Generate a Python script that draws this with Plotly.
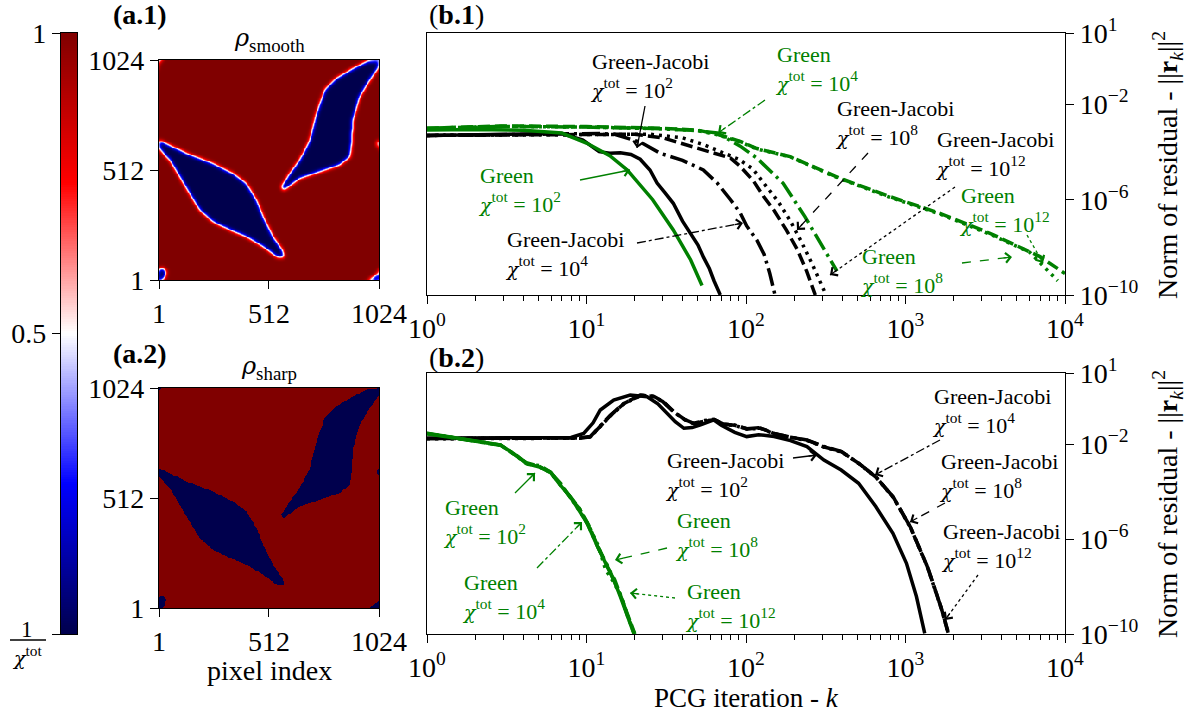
import numpy as np
import plotly.graph_objects as go

W, H = 1193, 713
FONT = "Liberation Serif"
GREEN = "#008000"
CHI = "<span style=\"font-family:'DejaVu Serif';font-style:italic;font-size:19px\">χ</span>"
RHO = "<span style=\"font-family:'DejaVu Serif';font-style:italic;font-size:24px\">ρ</span>"

# ---------------- data: convergence curves (k, log10 of residual norm) ----------------
# panel b.1 (smooth)
b1_g2_k = [1, 2, 4, 7, 10, 14, 18, 26, 35, 45, 53]
b1_g2_lr = [-3.07, -3.05, -3.08, -3.2, -3.62, -4.15, -4.75, -6.0, -7.27, -8.53, -9.6]
b1_g4_k = [1, 3, 10, 30, 50, 66, 92, 117, 150, 171, 234, 300, 351, 372]
b1_g4_lr = [-3.0, -2.92, -2.95, -3.02, -3.1, -3.2, -3.75, -4.25, -4.95, -5.31, -6.71, -7.9, -8.67, -9.0]
b1_g8_k = [1, 3, 10, 30, 50, 66, 92, 117, 189, 388, 800, 1645, 3388, 6970, 10000]
b1_g8_lr = [-3.0, -2.9, -2.93, -3.0, -3.08, -3.25, -3.55, -3.85, -4.19, -5.1, -5.87, -6.57, -7.41, -8.39, -9.1]
b1_g12_k = [1, 3, 10, 30, 50, 66, 92, 117, 189, 388, 800, 1645, 3388, 6000, 9000]
b1_g12_lr = [-3.02, -2.92, -2.95, -3.02, -3.1, -3.27, -3.57, -3.87, -4.2, -5.12, -5.9, -6.6, -7.45, -8.2, -9.4]
b1_gj2_k = [1, 3, 7, 9.5, 12, 14, 16.3, 19, 21.7, 25, 27.7, 31, 35, 40, 45, 50, 54, 59, 63, 69]
b1_gj2_lr = [-3.3, -3.25, -3.22, -3.5, -3.98, -4.05, -4.03, -4.1, -4.3, -4.75, -5.3, -5.7, -6.15, -6.9,
             -7.4, -7.9, -8.4, -8.9, -9.4, -10.0]
b1_gj4_k = [1, 5, 12, 15, 18, 22, 29, 40, 54, 66, 80, 92, 101, 117, 130, 141, 152]
b1_gj4_lr = [-3.3, -3.25, -3.22, -3.25, -3.4, -3.6, -4.05, -4.35, -4.75, -5.3, -6.0, -6.55, -7.1, -7.7,
             -8.3, -9.1, -10.0]
b1_gj8_k = [1, 10, 20, 30, 45, 60, 80, 92, 111, 130, 150, 180, 210, 240, 272]
b1_gj8_lr = [-3.3, -3.25, -3.25, -3.4, -3.75, -4.0, -4.25, -4.6, -5.2, -5.9, -6.45, -7.3, -8.1, -9.0, -10.0]
b1_gj12_k = [1, 10, 25, 40, 55, 70, 90, 110, 130, 160, 190, 220, 260, 290, 313]
b1_gj12_lr = [-3.3, -3.25, -3.25, -3.4, -3.7, -4.0, -4.3, -4.7, -5.3, -6.1, -6.9, -7.7, -8.7, -9.4, -9.9]

# panel b.2 (sharp)
b2_g2_k = [1, 1.6, 2.88, 3.5, 4.2, 5.0, 5.9, 6.8, 7.9, 9, 10.1, 11.7, 13.4, 15, 16.3, 18, 19.8]
b2_g2_lr = [-1.54, -1.75, -2.03, -2.4, -2.81, -2.95, -3.16, -3.7, -4.21, -4.8, -5.33, -6.3, -7.16, -7.8,
            -8.42, -9.2, -9.97]
b2_g4_k = [1, 1.6, 2.9, 3.6, 4.3, 5.1, 6.0, 6.9, 8.0, 9.1, 10.2, 11.8, 13.5, 15.2, 16.5, 18.2, 20.0]
b2_g4_lr = [-1.56, -1.76, -2.05, -2.45, -2.85, -2.9, -3.2, -3.75, -4.25, -4.75, -5.4, -6.35, -7.1, -7.9,
            -8.4, -9.3, -10.0]
b2_g8_k = [1, 1.6, 2.9, 3.5, 4.2, 5.0, 6.0, 6.9, 8.0, 9.0, 10.3, 11.6, 13.6, 15.0, 16.6, 18.2, 20.1]
b2_g8_lr = [-1.55, -1.75, -2.04, -2.42, -2.78, -2.92, -3.22, -3.66, -4.3, -4.7, -5.4, -6.2, -7.2, -7.7,
            -8.5, -9.25, -10.0]
b2_g12_k = [1, 1.6, 2.9, 3.5, 4.2, 5.0, 5.9, 6.9, 7.9, 9.1, 10.2, 11.8, 13.2, 14.6, 16.4, 18.1, 20.0]
b2_g12_lr = [-1.55, -1.76, -2.04, -2.42, -2.82, -2.94, -3.18, -3.72, -4.22, -4.85, -5.35, -6.25, -7.3,
             -7.75, -8.38, -9.22, -10.0]
b2_gj2_k = [1, 3, 6, 8, 9.6, 11, 12.2, 14.8, 18.8, 24, 28, 32, 36, 40.8, 46, 51.9, 57, 62.9, 70, 76, 85,
            101, 120, 150, 190, 241, 308, 395, 508, 651, 834, 1014, 1171, 1320]
b2_gj2_lr = [-1.75, -1.75, -1.74, -1.72, -1.55, -1.1, -0.56, -0.14, 0.07, 0.0, -0.3, -0.7, -1.05, -1.33,
             -1.3, -1.19, -1.1, -0.98, -1.2, -1.33, -1.5, -1.68, -1.6, -1.68, -1.85, -2.1, -2.67, -3.09,
             -3.65, -4.63, -5.76, -7.02, -8.42, -9.97]
b2_gj4_k = [1, 3, 6, 9, 10.5, 12, 14, 17, 21.7, 26, 30, 35, 41, 47, 55, 63, 72, 84, 101, 122, 150, 190,
            241, 308, 395, 508, 651, 834, 1069, 1370, 1665, 1850]
b2_gj4_lr = [-1.76, -1.76, -1.75, -1.74, -1.7, -1.3, -0.8, -0.3, 0.07, 0.02, -0.2, -0.63, -0.95, -1.12,
             -1.0, -0.95, -1.15, -1.19, -1.35, -1.3, -1.55, -1.7, -1.82, -2.1, -2.3, -2.8, -3.37, -4.21,
             -5.47, -7.16, -8.85, -9.95]
b2_gj8_k = [1, 3, 6, 9, 10.6, 12.1, 14.2, 17.2, 22, 26.5, 30.5, 35.5, 41.5, 47.5, 55.5, 63.5, 72.5, 85,
            102, 123, 151, 191, 243, 310, 398, 512, 656, 840, 1075, 1380, 1675, 1865]
b2_gj8_lr = [-1.76, -1.76, -1.75, -1.74, -1.68, -1.28, -0.78, -0.28, 0.06, 0.01, -0.22, -0.65, -0.97,
             -1.14, -1.02, -0.97, -1.16, -1.2, -1.36, -1.32, -1.56, -1.71, -1.84, -2.12, -2.32, -2.82,
             -3.4, -4.24, -5.5, -7.2, -8.9, -10.0]
b2_gj12_k = b2_gj8_k
b2_gj12_lr = [-1.77, -1.77, -1.76, -1.75, -1.69, -1.29, -0.79, -0.29, 0.05, 0.0, -0.23, -0.66, -0.98,
              -1.15, -1.03, -0.98, -1.17, -1.21, -1.37, -1.33, -1.57, -1.72, -1.85, -2.13, -2.33, -2.83,
              -3.41, -4.25, -5.52, -7.22, -8.92, -10.0]

# ---------------- data: inclusion outlines read from the microstructure (pixel index) ----------------
incl_A_x = [1, 128, 252, 345, 407, 454, 485, 531, 575, 585, 554, 485, 407, 330, 252, 190, 143, 97, 51, 4]
incl_A_y = [652, 590, 543, 497, 450, 373, 296, 202, 140, 110, 106, 156, 203, 234, 272, 327, 404, 482, 559, 609]
incl_B_x = [570, 609, 655, 702, 733, 771, 826, 903, 965, 1024, 1024, 981, 934, 903, 895, 888, 841, 748,
            655, 593, 578]
incl_B_y = [435, 497, 559, 652, 776, 884, 939, 985, 1016, 1021, 993, 931, 854, 745, 621, 574, 536, 505,
            474, 427, 419]
blob_bl_x = [1, 1, 18, 34, 30, 14]
blob_bl_y = [1, 50, 60, 40, 15, 1]
blob_br_x = [975, 1024, 1024, 1005]
blob_br_y = [1, 1, 40, 20]
blob_tl_x = [1, 14, 1]
blob_tl_y = [1024, 1024, 1008]
blob_r_x = [1012, 1024, 1024, 1014]
blob_r_y = [640, 655, 618, 625]

x_ticks = [1, 10, 100, 1000, 10000]
x_ticktext = ["10<sup>0</sup>", "10<sup>1</sup>", "10<sup>2</sup>", "10<sup>3</sup>", "10<sup>4</sup>"]
y_ticks = [1e1, 1e-2, 1e-6, 1e-10]
y_ticktext = ["10<sup>1</sup>", "10<sup>−2</sup>", "10<sup>−6</sup>", "10<sup>−10</sup>"]
pix_ticks = [1, 512, 1024]

# ---------------- build images ----------------
N = 256
coords = np.linspace(1, 1024, N)
X, Y = np.meshgrid(coords, coords)


def poly_mask(px_, py_):
    px_ = np.asarray(px_, float)
    py_ = np.asarray(py_, float)
    inside = np.zeros(X.shape, bool)
    j = len(px_) - 1
    for i in range(len(px_)):
        xi, yi, xj, yj = px_[i], py_[i], px_[j], py_[j]
        cond = ((yi > Y) != (yj > Y)) & (X < (xj - xi) * (Y - yi) / (yj - yi + 1e-12) + xi)
        inside ^= cond
        j = i
    return inside


mask = np.zeros(X.shape, bool)
for ppx, ppy in [(incl_A_x, incl_A_y), (incl_B_x, incl_B_y), (blob_bl_x, blob_bl_y),
                 (blob_br_x, blob_br_y), (blob_tl_x, blob_tl_y), (blob_r_x, blob_r_y)]:
    mask |= poly_mask(ppx, ppy)

rho_sharp = np.where(mask, 0.0, 1.0)
fk = np.fft.fftfreq(N)
g = np.exp(-2 * (np.pi * fk * 2.2) ** 2)
rho_smooth = np.clip(np.real(np.fft.ifft2(np.fft.fft2(rho_sharp) * g[:, None] * g[None, :])), 0, 1)

seismic = [[0.0, "rgb(0,0,77)"], [0.25, "rgb(0,0,255)"], [0.5, "rgb(255,255,255)"],
           [0.75, "rgb(255,0,0)"], [1.0, "rgb(128,0,0)"]]

# ---------------- figure ----------------
fig = go.Figure()


def xd(a, b):
    return [a / W, b / W]


def yd(top, bottom):
    return [1 - bottom / H, 1 - top / H]


styles = {"2": None, "4": "18px,5px,3px,5px", "8": "12px,5px", "12": "3px,5px"}


def add_line(k, lr, color, chi, xa, ya):
    d = styles[chi]
    fig.add_trace(go.Scatter(x=k, y=[10 ** v for v in lr], mode="lines", xaxis=xa, yaxis=ya,
                             line=dict(color=color, width=3.5, dash=d if d else "solid"),
                             showlegend=False, hoverinfo="skip"))


# b.1
add_line(b1_g8_k, b1_g8_lr, GREEN, "8", "x", "y")
add_line(b1_g12_k, b1_g12_lr, GREEN, "12", "x", "y")
add_line(b1_g4_k, b1_g4_lr, GREEN, "4", "x", "y")
add_line(b1_gj12_k, b1_gj12_lr, "black", "12", "x", "y")
add_line(b1_gj8_k, b1_gj8_lr, "black", "8", "x", "y")
add_line(b1_gj4_k, b1_gj4_lr, "black", "4", "x", "y")
add_line(b1_gj2_k, b1_gj2_lr, "black", "2", "x", "y")
add_line(b1_g2_k, b1_g2_lr, GREEN, "2", "x", "y")
# b.2
add_line(b2_gj2_k, b2_gj2_lr, "black", "2", "x2", "y2")
add_line(b2_gj4_k, b2_gj4_lr, "black", "4", "x2", "y2")
add_line(b2_gj8_k, b2_gj8_lr, "black", "8", "x2", "y2")
add_line(b2_gj12_k, b2_gj12_lr, "black", "12", "x2", "y2")
add_line(b2_g2_k, b2_g2_lr, GREEN, "2", "x2", "y2")
add_line(b2_g4_k, b2_g4_lr, GREEN, "4", "x2", "y2")
add_line(b2_g8_k, b2_g8_lr, GREEN, "8", "x2", "y2")
add_line(b2_g12_k, b2_g12_lr, GREEN, "12", "x2", "y2")

# heatmaps
fig.add_trace(go.Heatmap(z=rho_smooth, x=coords, y=coords, colorscale=seismic, zmin=0, zmax=1,
                         showscale=False, xaxis="x3", yaxis="y3", hoverinfo="skip"))
fig.add_trace(go.Heatmap(z=rho_sharp, x=coords, y=coords, colorscale=seismic, zmin=0, zmax=1,
                         showscale=False, xaxis="x4", yaxis="y4", hoverinfo="skip"))
cb_levels = np.linspace(0, 1, 256)
fig.add_trace(go.Heatmap(z=cb_levels[:, None], x=[0], y=cb_levels, colorscale=seismic, zmin=0, zmax=1,
                         showscale=False, xaxis="x5", yaxis="y5", hoverinfo="skip"))

tickfont = dict(family=FONT, size=28, color="black")
base = dict(showline=True, linecolor="black", linewidth=1.3, mirror=True, ticks="outside",
            tickcolor="black", tickwidth=1.3, ticklen=8, showgrid=False, zeroline=False,
            tickfont=tickfont, automargin=False)
minor_vals = [m * 10 ** d for d in range(4) for m in range(2, 10)]
minor = dict(ticks="outside", ticklen=5, tickwidth=1, tickcolor="black", tickvals=minor_vals,
             showgrid=False)

layout_axes = dict(
    xaxis=dict(base, type="log", range=[0, 4], domain=xd(427, 1065), anchor="y",
               tickvals=x_ticks, ticktext=x_ticktext, minor=minor),
    yaxis=dict(base, type="log", range=[-10, 1], domain=yd(33, 295), anchor="x", side="right",
               tickvals=y_ticks, ticktext=y_ticktext),
    xaxis2=dict(base, type="log", range=[0, 4], domain=xd(427, 1065), anchor="y2",
                tickvals=x_ticks, ticktext=x_ticktext, minor=minor),
    yaxis2=dict(base, type="log", range=[-10, 1], domain=yd(373, 634), anchor="x2", side="right",
                tickvals=y_ticks, ticktext=y_ticktext),
    xaxis3=dict(base, range=[1, 1024], domain=xd(159, 379), anchor="y3", tickvals=pix_ticks),
    yaxis3=dict(base, range=[1, 1024], domain=yd(60, 280), anchor="x3", tickvals=pix_ticks),
    xaxis4=dict(base, range=[1, 1024], domain=xd(159, 379), anchor="y4", tickvals=pix_ticks),
    yaxis4=dict(base, range=[1, 1024], domain=yd(388, 608), anchor="x4", tickvals=pix_ticks),
    xaxis5=dict(base, range=[-0.5, 0.5], domain=xd(61, 77), anchor="y5", showticklabels=False,
                ticks=""),
    yaxis5=dict(base, range=[0, 1], domain=yd(33, 634), anchor="x5", tickvals=[0, 0.5, 1],
                ticktext=["", "0.5", "1"]),
)

annotations = []
shapes = []


def text(x, y, s, size, color="black", xanchor="center", angle=0, align="center"):
    annotations.append(dict(x=x / W, y=1 - y / H, xref="paper", yref="paper", text=s, showarrow=False,
                            xanchor=xanchor, yanchor="middle", textangle=angle, align=align,
                            font=dict(family=FONT, size=size, color=color)))


# panel titles
text(140, 15, "<b>(a.1)</b>", 28)
text(140, 353, "<b>(a.2)</b>", 28)
text(427, 15, "(<b>b.1</b>)", 28, xanchor="left")
text(427, 357, "(<b>b.2</b>)", 28, xanchor="left")
text(269, 40, RHO + "<sub>smooth</sub>", 27)
text(269, 368, RHO + "<sub>sharp</sub>", 27)
text(269, 670, "pixel index", 28)
text(746, 698, "PCG iteration - <i>k</i>", 27)
text(1167, 165, "Norm of residual - ||<b>r</b><sub><i>k</i></sub>||<sup>2</sup>", 28, angle=-90)
text(1167, 504, "Norm of residual - ||<b>r</b><sub><i>k</i></sub>||<sup>2</sup>", 28, angle=-90)
# colorbar fraction label
text(27, 629, "1", 23)
text(27, 655, CHI + "<sup>tot</sup>", 22)
shapes.append(dict(type="line", xref="paper", yref="paper", x0=10 / W, x1=46 / W, y0=1 - 640 / H,
                   y1=1 - 640 / H, line=dict(color="black", width=1.5)))

# curve labels: (line1, chi exponent, colour, x_left, y of line 1, y of line 2)
labels = [
    ("Green-Jacobi", "2", "black", 588, 62, 86),
    ("Green", "2", GREEN, 476, 176, 199),
    ("Green-Jacobi", "4", "black", 503, 240, 264),
    ("Green", "4", GREEN, 773, 55, 79),
    ("Green-Jacobi", "8", "black", 833, 110, 133),
    ("Green-Jacobi", "12", "black", 933, 141, 164),
    ("Green", "12", GREEN, 957, 198, 219),
    ("Green", "8", GREEN, 858, 257, 280),
    ("Green-Jacobi", "2", "black", 663, 460, 485),
    ("Green", "2", GREEN, 441, 508, 532),
    ("Green", "4", GREEN, 460, 583, 607),
    ("Green", "8", GREEN, 673, 521, 545),
    ("Green", "12", GREEN, 683, 592, 616),
    ("Green-Jacobi", "4", "black", 930, 397, 421),
    ("Green-Jacobi", "8", "black", 937, 462, 485),
    ("Green-Jacobi", "12", "black", 939, 532, 556),
]
for l1, e, c, x0, y1, y2 in labels:
    text(x0, (y1 + y2) / 2 + 2, l1 + "<br>" + CHI + "<sup>tot</sup> = 10<sup>%s</sup>" % e, 22,
         color=c, xanchor="left", align="left")

# arrows: tail -> tip (figure pixels), colour, chi style
arrows = [
    (645, 106, 637, 148, "black", "2"),
    (580, 180, 630, 170, GREEN, "2"),
    (637, 243, 743, 223, "black", "4"),
    (765, 100, 718, 133, GREEN, "4"),
    (868, 153, 797, 230, "black", "8"),
    (955, 187, 830, 275, "black", "12"),
    (1027, 235, 1043, 263, GREEN, "12"),
    (962, 263, 1012, 257, GREEN, "8"),
    (793, 458, 817, 455, "black", "2"),
    (515, 493, 535, 473, GREEN, "2"),
    (537, 568, 582, 522, GREEN, "4"),
    (667, 548, 615, 560, GREEN, "8"),
    (675, 598, 630, 593, GREEN, "12"),
    (940, 440, 875, 475, "black", "4"),
    (945, 503, 910, 522, "black", "8"),
    (978, 575, 945, 620, "black", "12"),
]
adash = {"2": "solid", "4": "dashdot", "8": "dash", "12": "dot"}
for tx, ty, hx, hy, c, chi in arrows:
    shapes.append(dict(type="line", xref="paper", yref="paper", x0=tx / W, y0=1 - ty / H,
                       x1=hx / W, y1=1 - hy / H, line=dict(color=c, width=1.3, dash=adash[chi])))
    dx, dy = tx - hx, ty - hy
    L = (dx * dx + dy * dy) ** 0.5
    annotations.append(dict(x=hx / W, y=1 - hy / H, xref="paper", yref="paper", text="",
                            showarrow=True, arrowhead=4, arrowsize=1.6, arrowwidth=1.2,
                            arrowcolor=c, ax=dx / L * 10, ay=dy / L * 10))

fig.update_layout(width=W, height=H, margin=dict(l=0, r=0, t=0, b=0, pad=0), autosize=False,
                  paper_bgcolor="white", plot_bgcolor="white", showlegend=False,
                  annotations=annotations, shapes=shapes, **layout_axes)

fig.write_html("out.html")
